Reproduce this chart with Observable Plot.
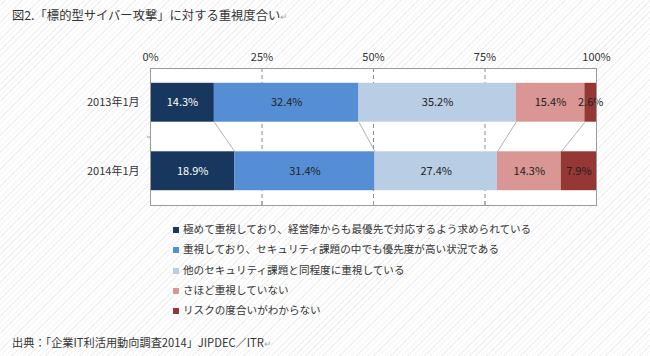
<!DOCTYPE html>
<html>
<head>
<meta charset="utf-8">
<script src="https://cdn.jsdelivr.net/npm/d3@7"></script>
<script src="https://cdn.jsdelivr.net/npm/@observablehq/plot@0.6"></script>
<style>
  html, body { margin: 0; padding: 0; }
  body {
    width: 650px; height: 356px; overflow: hidden;
    font-family: 'Noto Sans CJK JP', sans-serif; color: #333;
    background: repeating-linear-gradient(-45deg, #ffffff 0px, #ffffff 3px, #f1f1f1 3px, #f1f1f1 4px);
  }
  #title { height: 30px; line-height: 31px; padding-left: 12px; font-size: 12.3px; color: #333; }
  #chart svg { display: block; background: transparent; }
  #legend { padding-top: 7px; padding-left: 173px; font-size: 10.6px; }
  #legend .row { height: 20.3px; line-height: 20.3px; white-space: nowrap; }
  #legend .sw { display: inline-block; width: 6px; height: 6px; margin-right: 4px; vertical-align: 0px; }
  #caption { margin-top: 12px; padding-left: 12px; font-size: 11.2px; line-height: 20px; color: #333; }
  .ret { color: #aaa; font-size: 9px; }
</style>
</head>
<body>
<div id="title">図2.「標的型サイバー攻撃」に対する重視度合い<span class="ret">↵</span></div>
<div id="chart"></div>
<div id="legend"></div>
<div id="caption">出典：「企業IT利活用動向調査2014」JIPDEC／ITR<span class="ret">↵</span></div>
<script>
const categories = ["2013年1月", "2014年1月"];
const seriesNames = [
  "極めて重視しており、経営陣からも最優先で対応するよう求められている",
  "重視しており、セキュリティ課題の中でも優先度が高い状況である",
  "他のセキュリティ課題と同程度に重視している",
  "さほど重視していない",
  "リスクの度合いがわからない"
];
const values2013 = [14.3, 32.4, 35.2, 15.4, 2.6];
const values2014 = [18.9, 31.4, 27.4, 14.3, 7.9];
const seriesColors = ["#17375E", "#558ED5", "#B9CDE5", "#D99694", "#953735"];
const labelColors = ["#ffffff", "#222222", "#222222", "#222222", "#222222"];
const xTicks = [0, 25, 50, 75, 100];

const allValues = [values2013, values2014];
const half = 0.284; // half bar thickness in category units

// build stacked (100%-normalised) rows
const rows = [];
const bounds = [];
allValues.forEach((vals, i) => {
  const total = d3.sum(vals);
  let acc = 0;
  const b = [];
  vals.forEach((v, k) => {
    const x1 = acc / total * 100;
    acc += v;
    const x2 = acc / total * 100;
    rows.push({i, k, x1, x2, v, label: v.toFixed(1) + "%"});
    b.push(x2);
  });
  bounds.push(b);
});
const links = [0, 1, 2, 3].map(k => ({x1: bounds[0][k], x2: bounds[1][k]}));

const plot = Plot.plot({
  width: 650,
  height: 182,
  marginTop: 38,
  marginBottom: 7,
  marginLeft: 150,
  marginRight: 54,
  style: {fontFamily: "'Noto Sans CJK JP', sans-serif", fontSize: "11px", color: "#333", background: "transparent"},
  x: {domain: [0, 100], label: null},
  y: {domain: [-0.5, 1.5], reverse: true, label: null},
  marks: [
    Plot.frame({fill: "white", stroke: null}),
    Plot.ruleX(xTicks.slice(1), {stroke: "#8a8a8a", strokeDasharray: "4,3", strokeWidth: 1}),
    Plot.link(links, {x1: "x1", x2: "x2", y1: 0 + half, y2: 1 - half, stroke: "#a0a0a0", strokeWidth: 0.8}),
    Plot.rect(rows, {
      x1: "x1", x2: "x2",
      y1: d => d.i - half, y2: d => d.i + half,
      fill: d => seriesColors[d.k]
    }),
    Plot.text(rows, {
      x: d => (d.x1 + d.x2) / 2, y: "i", text: "label",
      fill: d => labelColors[d.k], fontSize: 11
    }),
    Plot.frame({stroke: "#9a9a9a", strokeWidth: 1}),
    Plot.axisX({anchor: "top", label: null, ticks: xTicks, tickFormat: d => d + "%", tickSize: 0, tickPadding: 8, fontSize: 11}),
    Plot.axisX({anchor: "bottom", label: null, ticks: xTicks, tickFormat: () => "", tickSize: -4, stroke: "#9a9a9a"}),
    Plot.axisY({label: null, ticks: [0, 1], tickFormat: i => categories[i], tickSize: 0, tickPadding: 11, fontSize: 11}),
    Plot.axisY({label: null, ticks: [0.5], tickFormat: () => "", tickSize: 3, stroke: "#9a9a9a"})
  ]
});
document.getElementById("chart").appendChild(plot);

const legend = document.getElementById("legend");
seriesNames.forEach((name, k) => {
  const row = document.createElement("div");
  row.className = "row";
  const sw = document.createElement("span");
  sw.className = "sw";
  sw.style.background = seriesColors[k];
  row.appendChild(sw);
  row.appendChild(document.createTextNode(name));
  legend.appendChild(row);
});
</script>
</body>
</html>
